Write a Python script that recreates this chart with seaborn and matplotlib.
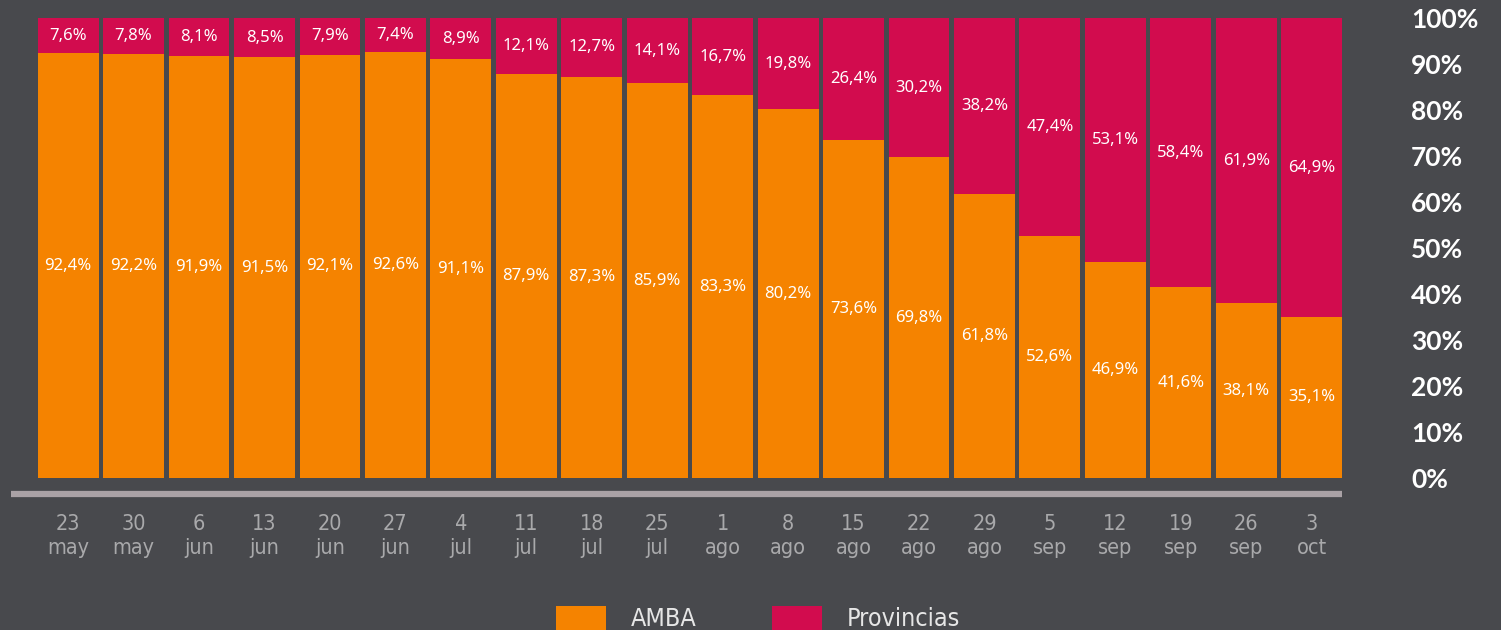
import numpy as np
import pandas as pd
import matplotlib.pyplot as plt
import seaborn as sns
from matplotlib.patches import Patch

# data
fechas = ["23\nmay", "30\nmay", "6\njun", "13\njun", "20\njun", "27\njun",
          "4\njul", "11\njul", "18\njul", "25\njul", "1\nago", "8\nago",
          "15\nago", "22\nago", "29\nago", "5\nsep", "12\nsep", "19\nsep",
          "26\nsep", "3\noct"]
amba = [92.4, 92.2, 91.9, 91.5, 92.1, 92.6, 91.1, 87.9, 87.3, 85.9,
        83.3, 80.2, 73.6, 69.8, 61.8, 52.6, 46.9, 41.6, 38.1, 35.1]
provincias = [7.6, 7.8, 8.1, 8.5, 7.9, 7.4, 8.9, 12.1, 12.7, 14.1,
              16.7, 19.8, 26.4, 30.2, 38.2, 47.4, 53.1, 58.4, 61.9, 64.9]
y_ticks = [0, 10, 20, 30, 40, 50, 60, 70, 80, 90, 100]

BG = "#48494d"
NARANJA = "#f58300"
CARMIN = "#d20c4e"

df = pd.DataFrame({"fecha": fechas, "AMBA": amba, "Provincias": provincias})
df["total"] = df["AMBA"] + df["Provincias"]

sns.set_style("dark")
plt.rcParams["font.family"] = ["Noto Sans", "DejaVu Sans"]

fig = plt.figure(figsize=(15.01, 6.3), dpi=100, facecolor=BG)
ax = fig.add_axes([0.0236, 0.241, 0.8721, 0.730])
ax.set_facecolor(BG)

# stacked bars: total in crimson, AMBA on top in orange
sns.barplot(data=df, x="fecha", y="total", color=CARMIN, width=0.93,
            saturation=1, linewidth=0, ax=ax)
sns.barplot(data=df, x="fecha", y="AMBA", color=NARANJA, width=0.93,
            saturation=1, linewidth=0, ax=ax)

# value labels
for i, (a, p) in enumerate(zip(amba, provincias)):
    ax.text(i, a / 2, f"{a:.1f}%".replace(".", ","), ha="center", va="center",
            color="white", fontsize=12, fontweight="medium")
    ax.text(i, a + p / 2, f"{p:.1f}%".replace(".", ","), ha="center", va="center",
            color="white", fontsize=12, fontweight="medium")

ax.set_xlim(-0.5, len(fechas) - 0.5)
ax.set_ylim(0, 100)

# grey baseline under the bars
ax.axhline(-3.5, xmin=-0.019, xmax=0.998, color="#aaa2a6", lw=4.5,
           solid_capstyle="butt", clip_on=False)

ax.set_xlabel("")
ax.set_ylabel("")
ax.set_xticks(range(len(fechas)))
ax.set_xticklabels(fechas, family="DejaVu Sans", fontstretch="condensed",
                   fontsize=15.5, color="#a9a9ab", linespacing=1.25)
ax.tick_params(axis="x", length=0, pad=26)

ax.yaxis.tick_right()
ax.set_yticks(y_ticks)
ax.set_yticklabels([f"{t}%" for t in y_ticks], fontsize=19, fontweight="bold",
                   color="white", family=["Lato", "DejaVu Sans"])
ax.tick_params(axis="y", length=0, pad=48)
for s in ax.spines.values():
    s.set_visible(False)
ax.grid(False)

handles = [Patch(facecolor=NARANJA, edgecolor="none", label="AMBA"),
           Patch(facecolor=CARMIN, edgecolor="none", label="Provincias")]
leg = fig.legend(handles=handles, loc="center", bbox_to_anchor=(0.505, 0.018),
                 ncol=2, frameon=False, handlelength=2.0, handleheight=1.1,
                 handletextpad=1.0, columnspacing=3.0,
                 prop={"family": "DejaVu Sans", "stretch": "condensed", "size": 18})
for t in leg.get_texts():
    t.set_color("#e6e6e6")

fig.savefig("out.png", dpi=100, facecolor=BG)
